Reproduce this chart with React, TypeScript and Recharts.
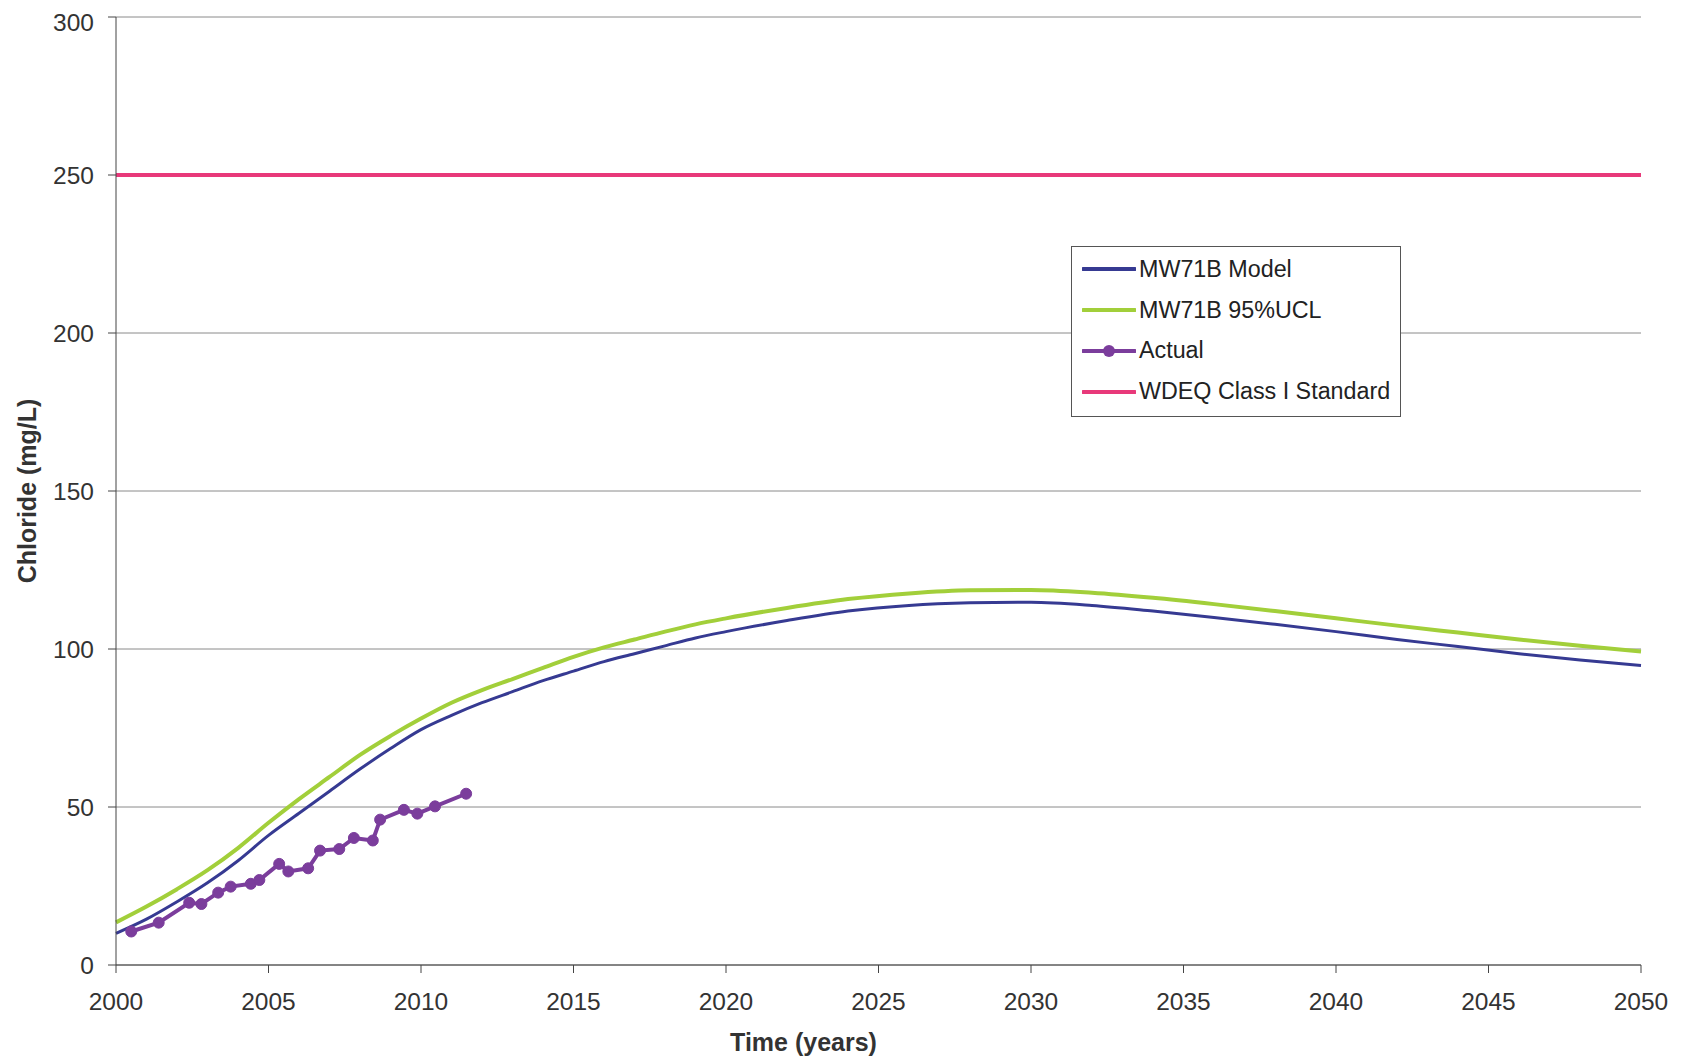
import React from "react";
import {
  LineChart,
  Line,
  XAxis,
  YAxis,
  CartesianGrid,
  Legend,
  Label,
} from "recharts";

const curveYears = [
  2000, 2001, 2002, 2003, 2004, 2005, 2006, 2007, 2008, 2009, 2010, 2011, 2012, 2013, 2014,
  2015, 2016, 2017, 2018, 2019, 2020, 2022, 2024, 2026, 2028, 2030, 2032, 2034, 2036, 2038,
  2040, 2042, 2044, 2046, 2048, 2050,
];
const modelValues = [
  10, 14.5, 20, 26, 33, 41, 48, 55, 62, 68.5, 74.5, 79, 83, 86.5, 90, 93, 96, 98.5, 101, 103.5,
  105.5, 109, 112, 113.8, 114.6, 114.8, 113.8, 112, 110, 107.8, 105.5, 103, 100.8, 98.5, 96.5,
  94.8,
];
const uclValues = [
  13.5, 18.5, 24, 30, 37, 45, 52.5, 59.5, 66.5, 72.5, 78, 83, 87, 90.5, 94, 97.5, 100.5, 103,
  105.5, 107.8, 109.7, 113, 115.8, 117.6, 118.6, 118.7, 117.8, 116.2, 114.2, 112, 109.7, 107.4,
  105.2, 103, 101, 99.2,
];
const actualYears = [
  2000.5, 2001.4, 2002.4, 2002.8, 2003.35, 2003.76, 2004.42, 2004.7, 2005.35, 2005.65, 2006.3,
  2006.69, 2007.32, 2007.8, 2008.42, 2008.66, 2009.44, 2009.88, 2010.46, 2011.48,
];
const actualValues = [
  10.6, 13.4, 19.7, 19.3, 22.9, 24.8, 25.7, 26.9, 32, 29.6, 30.6, 36.2, 36.7, 40.2, 39.4, 46,
  49.1, 47.9, 50.2, 54.2,
];
const standardYears = [2000, 2050];
const standardValues = [250, 250];

const xTicks = [2000, 2005, 2010, 2015, 2020, 2025, 2030, 2035, 2040, 2045, 2050];
const yTicks = [0, 50, 100, 150, 200, 250, 300];

const series = [
  { name: "MW71B Model", color: "#363a92", width: 3, dot: false },
  { name: "MW71B 95%UCL", color: "#a2cf3a", width: 4, dot: false },
  { name: "Actual", color: "#7b3d9c", width: 4, dot: true },
  { name: "WDEQ Class I Standard", color: "#e8397a", width: 4, dot: false },
];

const modelData = curveYears.map((year, i) => ({ year, value: modelValues[i] }));
const uclData = curveYears.map((year, i) => ({ year, value: uclValues[i] }));
const actualData = actualYears.map((year, i) => ({ year, value: actualValues[i] }));
const standardData = standardYears.map((year, i) => ({ year, value: standardValues[i] }));

const font = "'Liberation Sans', Arial, sans-serif";

function LegendBox() {
  return (
    <div
      style={{
        border: "1px solid #555",
        background: "#fff",
        padding: "2px 10px 4px 10px",
        fontFamily: font,
        fontSize: 23.3,
        color: "#222",
      }}
    >
      {series.map((s) => (
        <div key={s.name} style={{ display: "flex", alignItems: "center", height: 40.8 }}>
          <svg width={54} height={16} style={{ marginRight: 3 }}>
            <line x1={1} y1={8} x2={53} y2={8} stroke={s.color} strokeWidth={4} strokeLinecap="round" />
            {s.dot && <circle cx={27} cy={8} r={6} fill={s.color} />}
          </svg>
          <span>{s.name}</span>
        </div>
      ))}
    </div>
  );
}

export default function App() {
  return (
    <div style={{ width: 1677, height: 1050, fontFamily: font }}>
      <LineChart
        width={1677}
        height={1050}
        margin={{ top: 9, right: 44, left: 0, bottom: 0 }}
      >
        <CartesianGrid vertical={false} stroke="#8a8a8a" />
        <XAxis
          type="number"
          dataKey="year"
          domain={[2000, 2050]}
          ticks={xTicks}
          allowDuplicatedCategory={false}
          height={93}
          tickSize={8}
          tickMargin={20}
          stroke="#444"
          tick={{ fontSize: 24.5, fill: "#333", fontFamily: font }}
        >
          <Label
            value="Time (years)"
            position="insideBottom"
            offset={7}
            dx={-75}
            style={{ fontSize: 25, fontWeight: "bold", fill: "#333", fontFamily: font }}
          />
        </XAxis>
        <YAxis
          type="number"
          domain={[0, 300]}
          ticks={yTicks}
          width={108}
          tickSize={8}
          tickMargin={14}
          stroke="#444"
          tick={{ fontSize: 24.5, fill: "#333", fontFamily: font }}
        >
          <Label
            value="Chloride (mg/L)"
            angle={-90}
            position="insideLeft"
            offset={19}
            style={{ fontSize: 25, fontWeight: "bold", fill: "#333", fontFamily: font, textAnchor: "middle" }}
          />
        </YAxis>
        <YAxis
          yAxisId="right"
          orientation="right"
          width={0}
          tick={false}
          tickLine={false}
          stroke="#777"
          domain={[0, 300]}
        />
        <Legend
          layout="vertical"
          align="center"
          verticalAlign="middle"
          content={<LegendBox />}
          wrapperStyle={{ left: 1063, top: 238, width: "auto", bottom: "auto", right: "auto" }}
        />
        <Line
          data={standardData}
          dataKey="value"
          name={series[3].name}
          stroke={series[3].color}
          strokeWidth={series[3].width}
          dot={false}
          isAnimationActive={false}
        />
        <Line
          data={uclData}
          dataKey="value"
          type="monotone"
          name={series[1].name}
          stroke={series[1].color}
          strokeWidth={series[1].width}
          dot={false}
          isAnimationActive={false}
        />
        <Line
          data={modelData}
          dataKey="value"
          type="monotone"
          name={series[0].name}
          stroke={series[0].color}
          strokeWidth={series[0].width}
          dot={false}
          isAnimationActive={false}
        />
        <Line
          data={actualData}
          dataKey="value"
          name={series[2].name}
          stroke={series[2].color}
          strokeWidth={series[2].width}
          dot={{ r: 5.5, fill: series[2].color, stroke: series[2].color, strokeWidth: 1 }}
          isAnimationActive={false}
        />
      </LineChart>
    </div>
  );
}
